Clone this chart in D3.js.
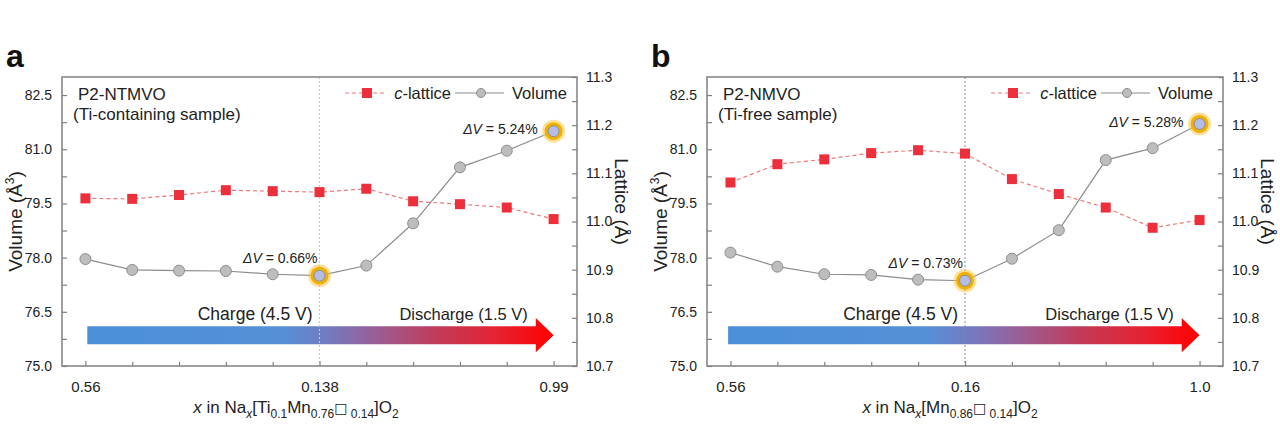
<!DOCTYPE html>
<html>
<head>
<meta charset="utf-8">
<script src="https://cdn.jsdelivr.net/npm/d3@7"></script>
<style>
  html, body { margin: 0; padding: 0; background: #fff; }
  svg { display: block; font-family: "Liberation Sans", Arial, sans-serif; }
</style>
</head>
<body>
<svg id="chart" width="1280" height="430"></svg>
<script>
// ---------- data ----------
const steps = [0, 1, 2, 3, 4, 5, 6, 7, 8, 9, 10];
const tickPosA = [0, 5, 10];
const tickLabelsA = ["0.56", "0.138", "0.99"];
const tickPosB = [0, 5, 10];
const tickLabelsB = ["0.56", "0.16", "1.0"];
const volumeA = [77.96, 77.66, 77.64, 77.63, 77.54, 77.50, 77.78, 78.95, 80.50, 80.96, 81.50];
const latticeA = [11.048, 11.047, 11.055, 11.065, 11.063, 11.061, 11.068, 11.042, 11.036, 11.029, 11.005];
const volumeB = [78.14, 77.75, 77.54, 77.52, 77.39, 77.36, 77.97, 78.76, 80.70, 81.03, 81.70];
const latticeB = [11.081, 11.119, 11.129, 11.142, 11.148, 11.141, 11.088, 11.057, 11.029, 10.987, 11.003];
const volTicks = [75.0, 76.5, 78.0, 79.5, 81.0, 82.5];
const latTicks = [10.7, 10.8, 10.9, 11.0, 11.1, 11.2, 11.3];
const highlightIdx = [5, 10];
const deltaA = ["0.66%", "5.24%"];
const deltaB = ["0.73%", "5.28%"];

const svg = d3.select("#chart");
const axisColor = "#808080";
const textColor = "#222";

function panel(cfg) {
  const left = cfg.left, right = cfg.right, top = 77, bottom = 366;
  const x = d3.scaleLinear().domain([-0.5, 10.5]).range([left, right]);
  const yV = d3.scaleLinear().domain([75, 83]).range([bottom, top]);
  const yL = d3.scaleLinear().domain([10.7, 11.3]).range([bottom, top]);
  const g = svg.append("g");

  // gradient arrow
  const gid = "grad" + cfg.letter;
  const grad = svg.append("defs").append("linearGradient").attr("id", gid)
    .attr("gradientUnits", "userSpaceOnUse")
    .attr("x1", x(cfg.arrowStart)).attr("x2", x(10)).attr("y1", 0).attr("y2", 0);
  [[0, "#4a90d9"], [0.42, "#5590d8"], [0.52, "#7579c0"], [0.62, "#9a5e95"], [0.75, "#c23a58"], [0.88, "#e52232"], [1, "#ff0000"]]
    .forEach(s => grad.append("stop").attr("offset", s[0]).attr("stop-color", s[1]));
  const ax0 = x(cfg.arrowStart), axH = x(9.62), axT = x(10);
  const sT = yV(76.1), sB = yV(75.6), hT = yV(76.33), hB = yV(75.38), yc = yV(75.85);
  g.append("path")
    .attr("d", `M${ax0},${sT}L${axH},${sT}L${axH},${hT}L${axT},${yc}L${axH},${hB}L${axH},${sB}L${ax0},${sB}Z`)
    .attr("fill", `url(#${gid})`);

  // vertical dotted line
  g.append("line").attr("x1", x(5)).attr("x2", x(5)).attr("y1", top).attr("y2", bottom)
    .attr("stroke", cfg.vColor).attr("stroke-width", 1).attr("stroke-dasharray", "2,2");

  // box
  g.append("rect").attr("x", left).attr("y", top).attr("width", right - left).attr("height", bottom - top)
    .attr("fill", "none").attr("stroke", axisColor).attr("stroke-width", 1.5);

  // x axis
  const xAx = g.append("g").attr("transform", `translate(0,${bottom})`)
    .call(d3.axisBottom(x).tickValues(steps).tickSize(0).tickFormat(d => {
      const i = cfg.tickPos.indexOf(d); return i >= 0 ? cfg.tickLabels[i] : "";
    }).tickPadding(15));
  xAx.select(".domain").remove();
  xAx.selectAll(".tick line").attr("y2", d => cfg.tickPos.includes(d) ? -5 : -4).attr("stroke", axisColor).attr("stroke-width", 1.2);
  xAx.selectAll("text").attr("font-size", 15).attr("fill", textColor).attr("font-family", "Liberation Sans, Arial");

  // left y axis
  const vMinor = d3.range(0, 11).map(i => 75 + i * 0.75);
  const yAx = g.append("g").attr("transform", `translate(${left},0)`)
    .call(d3.axisLeft(yV).tickValues(vMinor).tickSize(0).tickPadding(10)
      .tickFormat(d => volTicks.some(t => Math.abs(t - d) < 1e-6) ? d3.format(".1f")(d) : ""));
  yAx.select(".domain").remove();
  yAx.selectAll(".tick line").attr("x2", 5).attr("stroke", axisColor).attr("stroke-width", 1.2);
  yAx.selectAll("text").attr("font-size", 14).attr("fill", textColor).attr("font-family", "Liberation Sans, Arial");

  // right y axis
  const lMinor = d3.range(0, 13).map(i => +(10.7 + i * 0.05).toFixed(2));
  const yAxR = g.append("g").attr("transform", `translate(${right},0)`)
    .call(d3.axisRight(yL).tickValues(lMinor).tickSize(0).tickPadding(9)
      .tickFormat(d => latTicks.some(t => Math.abs(t - d) < 1e-6) ? d3.format(".1f")(d) : ""));
  yAxR.select(".domain").remove();
  yAxR.selectAll(".tick line").attr("x2", -5).attr("stroke", axisColor).attr("stroke-width", 1.2);
  yAxR.selectAll("text").attr("font-size", 14).attr("fill", textColor).attr("font-family", "Liberation Sans, Arial");

  // lattice line
  const latLine = d3.line().x((d, i) => x(steps[i])).y(d => yL(d));
  g.append("path").datum(cfg.lattice).attr("d", latLine).attr("fill", "none")
    .attr("stroke", "#f07878").attr("stroke-width", 1.2).attr("stroke-dasharray", "4,3");
  const sq = 10;
  g.selectAll(".sq").data(cfg.lattice).enter().append("rect")
    .attr("x", (d, i) => x(steps[i]) - sq / 2).attr("y", d => yL(d) - sq / 2)
    .attr("width", sq).attr("height", sq).attr("fill", "#ec2f3a");

  // volume line
  const volLine = d3.line().x((d, i) => x(steps[i])).y(d => yV(d));
  g.append("path").datum(cfg.volume).attr("d", volLine).attr("fill", "none")
    .attr("stroke", "#8c8c8c").attr("stroke-width", 1.2);
  // highlight rings
  highlightIdx.forEach(i => {
    g.append("circle").attr("cx", x(steps[i])).attr("cy", yV(cfg.volume[i])).attr("r", 11.5)
      .attr("fill", "#f7c948").attr("opacity", 0.55);
    g.append("circle").attr("cx", x(steps[i])).attr("cy", yV(cfg.volume[i])).attr("r", 9)
      .attr("fill", "#f0b000");
  });
  g.selectAll(".ci").data(cfg.volume).enter().append("circle")
    .attr("cx", (d, i) => x(steps[i])).attr("cy", d => yV(d)).attr("r", 5.5)
    .attr("fill", (d, i) => highlightIdx.includes(i) ? "#b4bde6" : "#bdbdbd")
    .attr("stroke", "#8e8e8e").attr("stroke-width", 1);

  // delta V labels
  const dv = (t, xx, yy) => {
    const tx = g.append("text").attr("x", xx).attr("y", yy).attr("text-anchor", "end")
      .attr("font-size", 14).attr("fill", textColor);
    tx.append("tspan").attr("font-style", "italic").text("ΔV");
    tx.append("tspan").text(" = " + t);
  };
  dv(cfg.delta[0], x(5) - 2, yV(cfg.volume[5]) - 13);
  dv(cfg.delta[1], x(10) - 16, yV(cfg.volume[10]) + 3);

  // arrow labels
  g.append("text").attr("x", x(5) - 7).attr("y", yV(76.28)).attr("text-anchor", "end")
    .attr("font-size", 17.5).attr("fill", textColor).text("Charge (4.5 V)");
  g.append("text").attr("x", x(9.45)).attr("y", yV(76.28)).attr("text-anchor", "end")
    .attr("font-size", 16.5).attr("fill", textColor).text("Discharge (1.5 V)");

  // sample title
  g.append("text").attr("x", left + 16).attr("y", 100).attr("font-size", 17).attr("fill", textColor).text(cfg.title1);
  g.append("text").attr("x", left + 11).attr("y", 120).attr("font-size", 17).attr("fill", textColor).text(cfg.title2);

  // legend
  const ly = 93, lr = right - 10;
  g.append("text").attr("x", lr).attr("y", ly + 6).attr("text-anchor", "end")
    .attr("font-size", 16.5).attr("fill", textColor).text("Volume");
  g.append("line").attr("x1", lr - 112).attr("x2", lr - 63).attr("y1", ly).attr("y2", ly)
    .attr("stroke", "#8c8c8c").attr("stroke-width", 1.2);
  g.append("circle").attr("cx", lr - 86).attr("cy", ly).attr("r", 4.5).attr("fill", "#bdbdbd").attr("stroke", "#8e8e8e");
  const cl = g.append("text").attr("x", lr - 116).attr("y", ly + 6).attr("text-anchor", "end")
    .attr("font-size", 16.5).attr("fill", textColor);
  cl.append("tspan").attr("font-style", "italic").text("c");
  cl.append("tspan").text("-lattice");
  g.append("line").attr("x1", lr - 222).attr("x2", lr - 182).attr("y1", ly).attr("y2", ly)
    .attr("stroke", "#f07878").attr("stroke-width", 1.2).attr("stroke-dasharray", "4,3");
  g.append("rect").attr("x", lr - 200 - 5).attr("y", ly - 5).attr("width", 10).attr("height", 10).attr("fill", "#ec2f3a");

  // axis titles
  const vt = g.append("text").attr("transform", `translate(${left - 40},${(top + bottom) / 2}) rotate(-90)`)
    .attr("text-anchor", "middle").attr("font-size", 19).attr("fill", textColor);
  vt.append("tspan").text("Volume (Å");
  vt.append("tspan").attr("font-size", 12).attr("dy", -8).text("3");
  vt.append("tspan").attr("dy", 8).text(")");
  g.append("text").attr("transform", `translate(${right + 38},${(top + bottom) / 2 - 20}) rotate(90)`)
    .attr("text-anchor", "middle").attr("font-size", 19).attr("fill", textColor).text("Lattice (Å)");

  const xt = g.append("text").attr("x", cfg.xTitleX).attr("y", 413).attr("text-anchor", "middle")
    .attr("font-size", 17).attr("fill", textColor);
  cfg.xTitle.forEach(p => {
    const t = xt.append("tspan").text(p.t);
    if (p.i) t.attr("font-style", "italic");
    if (p.sub) t.attr("font-size", 12).attr("dy", 5);
    if (p.up) t.attr("dy", -5);
    if (p.box) t.attr("font-family", "DejaVu Sans").attr("font-size", 14);
  });

  // panel letter
  svg.append("text").attr("x", cfg.letterX).attr("y", 67).attr("font-size", 32).attr("font-weight", "bold")
    .attr("fill", "#111").text(cfg.letter);
}

panel({
  letter: "a", letterX: 6, left: 62, right: 577,
  tickPos: tickPosA, tickLabels: tickLabelsA,
  volume: volumeA, lattice: latticeA, delta: deltaA,
  vColor: "#c8c8c8", arrowStart: 0.04,
  title1: "P2-NTMVO", title2: "(Ti-containing sample)",
  xTitleX: 296,
  xTitle: [{t: "x", i: true}, {t: " in Na"}, {t: "x", i: true, sub: true}, {t: "[Ti", up: true}, {t: "0.1", sub: true},
    {t: "Mn", up: true}, {t: "0.76", sub: true}, {t: "□", box: true, up: true}, {t: " 0.14", sub: true}, {t: "]O", up: true}, {t: "2", sub: true}]
});
panel({
  letter: "b", letterX: 651, left: 707, right: 1223,
  tickPos: tickPosB, tickLabels: tickLabelsB,
  volume: volumeB, lattice: latticeB, delta: deltaB,
  vColor: "#8a8a8a", arrowStart: -0.05,
  title1: "P2-NMVO", title2: "(Ti-free sample)",
  xTitleX: 950,
  xTitle: [{t: "x", i: true}, {t: " in Na"}, {t: "x", i: true, sub: true}, {t: "[Mn", up: true}, {t: "0.86", sub: true},
    {t: "□", box: true, up: true}, {t: " 0.14", sub: true}, {t: "]O", up: true}, {t: "2", sub: true}]
});
</script>
</body>
</html>
